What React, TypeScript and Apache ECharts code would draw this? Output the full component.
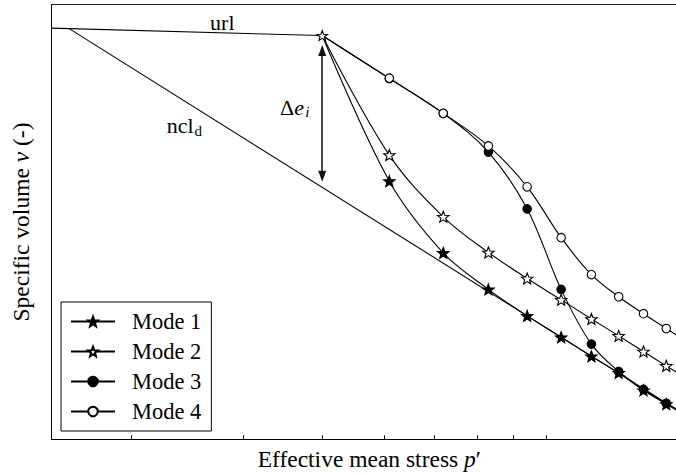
import React, { useEffect, useRef } from 'react';
import * as echarts from 'echarts';

// Effective mean stress p' (arbitrary units, log axis) shared by the four modes
const P = [40, 51, 62, 73, 84, 95, 106, 117, 128, 139, 150];
// Specific volume v for each mode
const MODE1 = [1.929, 1.594, 1.429, 1.345, 1.284, 1.235, 1.191, 1.153, 1.113, 1.081, 1.053];
const MODE2 = [1.929, 1.654, 1.512, 1.430, 1.370, 1.321, 1.277, 1.238, 1.202, 1.169, 1.139];
const MODE3 = [1.929, 1.830, 1.750, 1.661, 1.530, 1.345, 1.219, 1.156, 1.115, 1.083, 1.055];
const MODE4 = [1.929, 1.831, 1.750, 1.675, 1.581, 1.464, 1.379, 1.328, 1.289, 1.255, 1.224];
// Unloading-reloading line and normal compression line
const URL_P = [15, 40];
const URL_V = [1.946, 1.929];
const NCL_P = [16, 150];
const NCL_V = [1.945, 1.053];
// x-axis tick positions
const TICK_P = [20, 30, 40, 50, 60, 70, 80, 90];
const P_MIN = 15;
const P_MAX = 150;
const V_MIN = 1;
const V_MAX = 2;
// Delta e_i arrow
const ARROW_P = 40;
const ARROW_V = [1.8946, 1.6054];

const NAMES = ['Mode 1', 'Mode 2', 'Mode 3', 'Mode 4'];

const FONT = "'Liberation Serif', 'Times New Roman', serif";
const STAR =
  'path://M50,0L62.34,33.01L97.55,34.55L69.97,56.49L79.39,90.45L50,71L20.61,90.45L30.03,56.49L2.45,34.55L37.66,33.01Z';

const lg = (p: number) => Math.log10(p);

function modeSeries(name: string, vals: number[], symbol: string, filled: boolean, size: number) {
  return {
    name,
    type: 'line',
    smooth: 0.35,
    symbol,
    symbolSize: size,
    symbolKeepAspect: true,
    showAllSymbol: true,
    lineStyle: { color: '#000', width: 1.1 },
    itemStyle: { color: filled ? '#000' : '#fff', borderColor: '#000', borderWidth: 1.1 },
    emphasis: { disabled: true },
    data: P.map((p, i) =>
      i === 0 ? { value: [lg(p), vals[i]], symbol: 'none' } : { value: [lg(p), vals[i]] }
    ),
  };
}

function label(p: number, v: number, text: string, size: number, italic = false, rich?: any) {
  return {
    coord: [lg(p), v],
    label: {
      show: true,
      position: [0, 0],
      align: 'left',
      verticalAlign: 'middle',
      formatter: text,
      fontFamily: FONT,
      fontSize: size,
      fontStyle: italic ? 'italic' : 'normal',
      color: '#000',
      rich,
    },
  };
}

export default function App() {
  const ref = useRef<HTMLDivElement>(null);
  useEffect(() => {
    document.body.style.margin = '0';
    const chart = echarts.init(ref.current!, undefined, { renderer: 'svg' });
    const richAxis = {
      r: { fontFamily: FONT, fontSize: 23.5, color: '#000' },
      i: { fontFamily: FONT, fontSize: 23.5, fontStyle: 'italic', color: '#000' },
    };
    const richLbl = {
      r: { fontFamily: FONT, fontSize: 22, color: '#000' },
      i: { fontFamily: FONT, fontSize: 22, fontStyle: 'italic', color: '#000' },
    };
    chart.setOption({
      animation: false,
      grid: {
        left: 51.3,
        top: 4.7,
        width: 636,
        height: 434.6,
        containLabel: false,
        outerBoundsMode: 'none',
      },
      xAxis: [
        {
          type: 'value',
          min: lg(P_MIN),
          max: lg(P_MAX),
          name: '{r|Effective mean stress }{i|p}{r|\u2032}',
          nameLocation: 'middle',
          nameGap: 8,
          nameTextStyle: { rich: richAxis },
          axisLine: { show: true, lineStyle: { color: '#000', width: 1 } },
          axisTick: {
            show: true,
            inside: true,
            length: 4,
            customValues: TICK_P.map(lg),
            lineStyle: { color: '#000', width: 1 },
          },
          axisLabel: { show: false },
          splitLine: { show: false },
        },
        {
          type: 'value',
          position: 'top',
          min: lg(P_MIN),
          max: lg(P_MAX),
          axisLine: { show: true, lineStyle: { color: '#222', width: 1 } },
          axisTick: { show: false },
          axisLabel: { show: false },
          splitLine: { show: false },
        },
      ],
      yAxis: {
        type: 'value',
        min: V_MIN,
        max: V_MAX,
        name: '{r|Specific volume }{i|v}{r| (-)}',
        nameLocation: 'middle',
        nameGap: 18,
        nameTextStyle: { rich: richAxis },
        axisLine: { show: true, lineStyle: { color: '#000', width: 1 } },
        axisTick: { show: false },
        axisLabel: { show: false },
        splitLine: { show: false },
      },
      legend: {
        data: NAMES,
        orient: 'vertical',
        left: 61,
        top: 302,
        selectedMode: false,
        backgroundColor: '#fff',
        borderColor: '#000',
        borderWidth: 1,
        borderRadius: 0,
        padding: [8, 10, 8, 9],
        itemWidth: 44,
        itemHeight: 12,
        itemGap: 7,
        textStyle: {
          fontFamily: FONT,
          fontSize: 22.5,
          lineHeight: 20,
          color: '#000',
          padding: [0, 0, 0, 12],
        },
      },
      series: [
        {
          name: 'ncl',
          type: 'line',
          symbol: 'none',
          lineStyle: { color: '#000', width: 1.1 },
          emphasis: { disabled: true },
          data: NCL_P.map((p, i) => [lg(p), NCL_V[i]]),
        },
        modeSeries(NAMES[0], MODE1, STAR, true, 11.5),
        modeSeries(NAMES[1], MODE2, STAR, false, 11.5),
        modeSeries(NAMES[2], MODE3, 'circle', true, 8.5),
        modeSeries(NAMES[3], MODE4, 'circle', false, 8.5),
        {
          name: 'url',
          type: 'line',
          z: 5,
          symbol: 'none',
          lineStyle: { color: '#000', width: 1.1 },
          emphasis: { disabled: true },
          data: URL_P.map((p, i) =>
            i === URL_P.length - 1
              ? {
                  value: [lg(p), URL_V[i]],
                  symbol: STAR,
                  symbolSize: 10.5,
                  symbolKeepAspect: true,
                  itemStyle: { color: '#fff', borderColor: '#000', borderWidth: 1.1 },
                }
              : { value: [lg(p), URL_V[i]] }
          ),
          markLine: {
            silent: true,
            symbol: ['triangle', 'triangle'],
            symbolSize: [8, 11],
            label: { show: false },
            lineStyle: { color: '#111', width: 1.5, type: 'solid' },
            emphasis: { disabled: true },
            data: [[{ coord: [lg(ARROW_P), ARROW_V[0]] }, { coord: [lg(ARROW_P), ARROW_V[1]] }]],
          },
          markPoint: {
            silent: true,
            symbol: 'circle',
            symbolSize: 0,
            emphasis: { disabled: true },
            data: [
              label(26.65, 1.9595, 'url', 22),
              label(22.78, 1.7218, 'ncl', 22),
              label(25.2, 1.7105, 'd', 15),
              label(34.34, 1.7639, '{r|\u0394}{i|e}', 22, false, richLbl),
              label(37.6, 1.7522, 'i', 15, true),
            ],
          },
        },
      ],
    });
    return () => chart.dispose();
  }, []);
  return <div ref={ref} style={{ width: 676, height: 475 }} />;
}
